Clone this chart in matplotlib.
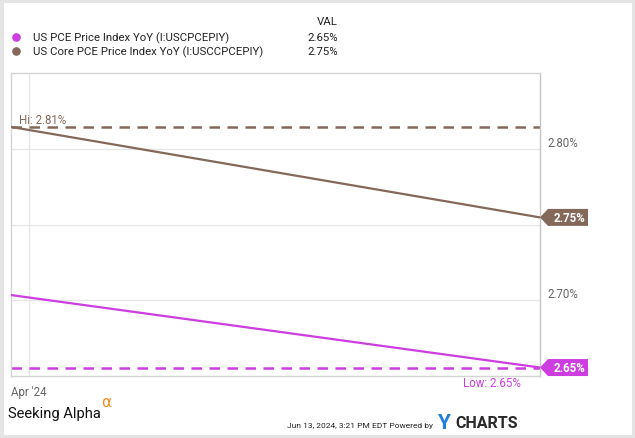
import numpy as np
import matplotlib
matplotlib.use("Agg")
import matplotlib.pyplot as plt
import matplotlib.dates as mdates
import matplotlib.transforms as mtransforms
from matplotlib.patches import Polygon, Rectangle

# ---- data ----
dates = np.array(["2024-03-31", "2024-04-30"], dtype="datetime64[D]")
pce = [2.7033, 2.6553]
core = [2.8146, 2.7547]
series_names = ["US PCE Price Index YoY (I:USCPCEPIY)",
                "US Core PCE Price Index YoY (I:USCCPCEPIY)"]
yticks = [2.70, 2.75, 2.80]
xtick_dates = np.array(["2024-04-01"], dtype="datetime64[D]")
xtick_labels = ["Apr '24"]

PINK = "#cc3ee0"
BROWN = "#84695a"
GREY_TXT = "#666666"

plt.rcParams["font.family"] = ["Roboto", "DejaVu Sans"]

fig = plt.figure(figsize=(6.35, 4.39), dpi=100)
W, H = 635, 439

def fx(px):
    return px / W

def fy(py):
    return 1 - py / H

# outer frame
fig.patches.append(Rectangle((0, 0), 1, 1, transform=fig.transFigure,
                             fill=False, edgecolor="#e4e4e4", linewidth=5))

ax = fig.add_axes([fx(11), fy(377), fx(540) - fx(11), fy(74) - fy(377)])
xnum = mdates.date2num(dates)
ax.set_xlim(xnum[0], xnum[-1])
ax.set_ylim(2.6497, 2.8503)

for sp in ax.spines.values():
    sp.set_color("#d4d4d4")
    sp.set_linewidth(1)
ax.spines["right"].set_color("#c4c4c4")

ax.set_yticks(yticks)
ax.set_yticklabels([])
ax.tick_params(axis="both", length=0)
ax.set_xticks(mdates.date2num(xtick_dates))
ax.set_xticklabels([])
ax.grid(True, color="#e6e6e6", linewidth=1)

end_vals = [core[-1], pce[-1]]

# y tick labels (above gridlines, right side); hidden where an end flag covers them
for t in yticks:
    if min(abs(t - v) for v in end_vals) < 0.01:
        continue
    ax.annotate(f"{t:.2f}%", xy=(1, t), xycoords=("axes fraction", "data"),
                xytext=(5, 5), textcoords="offset points", ha="left", va="center",
                fontsize=8.3, color=GREY_TXT, annotation_clip=False)

# x tick labels
for d, lab in zip(xtick_dates, xtick_labels):
    ax.annotate(lab, xy=(mdates.date2num(d), 0), xycoords=("data", "axes fraction"),
                xytext=(-12.5, -11.5), textcoords="offset points", ha="left", va="center",
                fontsize=8.3, color=GREY_TXT, annotation_clip=False)

# lines
ax.plot(xnum, core, color=BROWN, linewidth=1.6, solid_capstyle="butt", zorder=3)
ax.plot(xnum, pce, color=PINK, linewidth=1.6, solid_capstyle="butt", zorder=3)

hi = max(core)
lo = min(pce)
ax.axhline(hi, color=BROWN, linewidth=1.8, dashes=(4.2, 3.0), zorder=2)
ax.axhline(lo, color=PINK, linewidth=1.8, dashes=(4.2, 3.0), zorder=2)

def trunc2(v):
    return np.floor(v * 100 + 1e-9) / 100

ax.annotate(f"Hi: {trunc2(hi):.2f}%", xy=(0, hi), xycoords=("axes fraction", "data"),
            xytext=(5.5, 5.5), textcoords="offset points", ha="left", va="center",
            fontsize=8.3, color=BROWN, annotation_clip=False)
ax.annotate(f"Low: {trunc2(lo):.2f}%", xy=(1, lo), xycoords=("axes fraction", "data"),
            xytext=(-13.5, -10.5), textcoords="offset points", ha="right", va="center",
            fontsize=8.3, color=PINK, annotation_clip=False)

# end value flags
def flag(y, color):
    verts = np.array([[0, 0], [8, 8.5], [48, 8.5], [48, -8.5], [8, -8.5]]) / 100.0
    tr = fig.dpi_scale_trans + mtransforms.ScaledTranslation(xnum[-1], y, ax.transData)
    ax.add_patch(Polygon(verts, closed=True, transform=tr, facecolor=color,
                         edgecolor="none", clip_on=False, zorder=5))
    ttr = ax.transData + mtransforms.ScaledTranslation(0.29, 0, fig.dpi_scale_trans)
    ax.text(xnum[-1], y, f"{trunc2(y):.2f}%", transform=ttr, ha="center", va="center",
            fontsize=8.3, color="white", fontweight="bold", clip_on=False, zorder=6)

flag(core[-1], BROWN)
flag(pce[-1], PINK)

# legend
fig.text(fx(338), fy(22), "VAL", ha="right", va="center", fontsize=8.2, color="#222222")
for i, (name, vals, col) in enumerate(zip(series_names, [pce, core], [PINK, BROWN])):
    yy = fy(38 + 14 * i)
    fig.lines.append(plt.Line2D([fx(16)], [yy], marker="o", markersize=5.2,
                                color=col, transform=fig.transFigure))
    fig.text(fx(33), yy, name, ha="left", va="center", fontsize=8.2, color="#222222")
    fig.text(fx(338), yy, f"{trunc2(vals[-1]):.2f}%", ha="right", va="center",
             fontsize=8.2, color="#222222")

# footer
fig.text(fx(8), fy(414), "Seeking Alpha", ha="left", va="center", fontsize=10.6,
         color="#111111")
fig.text(fx(101), fy(403), "\u03b1", ha="left", va="center", fontsize=11,
         color="#f28a1c", family=["DejaVu Sans"])
fig.text(fx(433), fy(426), "Jun 13, 2024, 3:21 PM EDT Powered by", ha="right",
         va="center", fontsize=6.0, color="#222222")
fig.text(fx(437), fy(424), "Y", ha="left", va="center", fontsize=15,
         color="#1e7fe0", fontweight="bold")
fig.text(fx(455), fy(424), "CHARTS", ha="left", va="center", fontsize=11.5,
         color="#2a2a2a", fontweight="bold")

fig.savefig("out.png", dpi=100)
